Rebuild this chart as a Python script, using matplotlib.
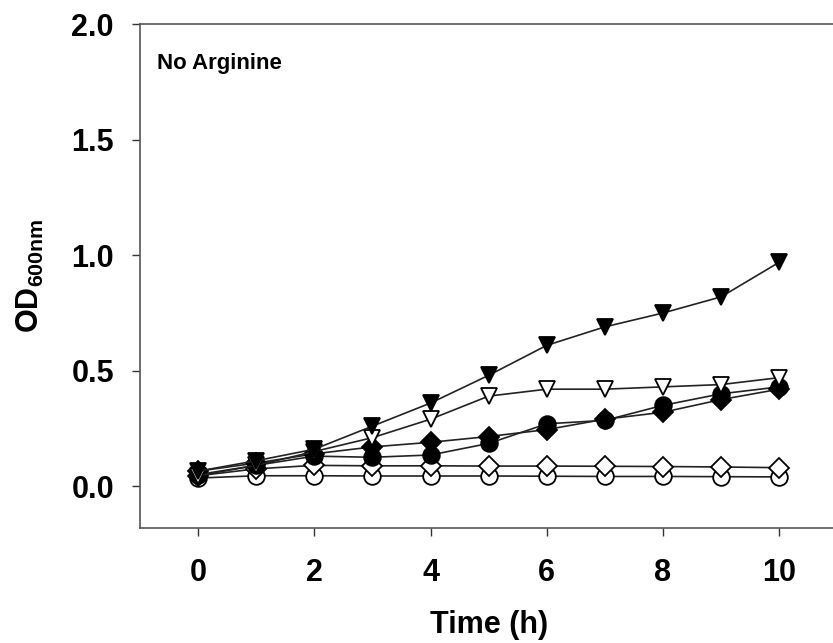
import matplotlib
matplotlib.use("Agg")
import matplotlib.pyplot as plt

plt.rcParams['font.family'] = ['Liberation Sans', 'DejaVu Sans']
plt.rcParams['font.weight'] = 'bold'
plt.rcParams['mathtext.fontset'] = 'custom'
plt.rcParams['mathtext.rm'] = 'Liberation Sans:bold'
plt.rcParams['mathtext.bf'] = 'Liberation Sans:bold'
plt.rcParams['mathtext.it'] = 'Liberation Sans:bold'

time_h = [0, 1, 2, 3, 4, 5, 6, 7, 8, 9, 10]
tri_filled = [0.065, 0.11, 0.16, 0.26, 0.36, 0.48, 0.61, 0.69, 0.75, 0.82, 0.97]
tri_open = [0.045, 0.09, 0.15, 0.21, 0.29, 0.39, 0.42, 0.42, 0.43, 0.44, 0.47]
dia_filled = [0.065, 0.10, 0.14, 0.17, 0.19, 0.215, 0.245, 0.29, 0.32, 0.375, 0.42]
circ_filled = [0.05, 0.09, 0.13, 0.125, 0.135, 0.185, 0.27, 0.285, 0.35, 0.40, 0.43]
dia_open = [0.045, 0.075, 0.09, 0.088, 0.088, 0.087, 0.087, 0.086, 0.085, 0.083, 0.08]
circ_open = [0.035, 0.045, 0.045, 0.044, 0.044, 0.044, 0.043, 0.042, 0.042, 0.041, 0.04]

x_ticks = [0, 2, 4, 6, 8, 10]
y_ticks = [0.0, 0.5, 1.0, 1.5, 2.0]

fig = plt.figure(figsize=(8.33, 6.43), dpi=100)
ax = fig.add_axes([140 / 833, 115.3 / 643, 697.4 / 833, 503.3 / 643])

series = [
    (circ_open, 'o', 'white', 12),
    (dia_open, 'D', 'white', 10),
    (circ_filled, 'o', 'black', 12),
    (dia_filled, 'D', 'black', 10),
    (tri_open, 'v', 'white', 12),
    (tri_filled, 'v', 'black', 12),
]
for vals, mk, fc, ms in series:
    ax.plot(time_h, vals, color='#222222', lw=1.2, marker=mk, ms=ms,
            mfc=fc, mec='black', mew=1.3, clip_on=False)

ax.set_xlim(-1, 11)
ax.set_ylim(-0.18, 2.0)
ax.set_xticks(x_ticks)
ax.set_xticklabels([str(v) for v in x_ticks])
ax.set_yticks(y_ticks)
ax.set_yticklabels([f"{v:.1f}" for v in y_ticks])

for side in ['left', 'top', 'bottom']:
    ax.spines[side].set_color('#555555')
    ax.spines[side].set_linewidth(1.2)
ax.spines['right'].set_visible(False)

ax.tick_params(axis='both', direction='out', length=5.8, width=1.0,
               color='#333333', labelsize=22)
ax.tick_params(axis='x', pad=16)
ax.tick_params(axis='y', pad=13)
for lab in ax.get_xticklabels() + ax.get_yticklabels():
    lab.set_fontweight('bold')

ax.set_xlabel('Time (h)', fontsize=22, fontweight='bold', labelpad=16)
ax.set_ylabel(r'$\mathbf{OD}_{\mathbf{600nm}}$', fontsize=22, labelpad=18)

ax.text(0.024, 0.944, 'No Arginine', transform=ax.transAxes, fontsize=16,
        fontweight='bold', ha='left', va='top')

fig.savefig('out.png', dpi=100)
